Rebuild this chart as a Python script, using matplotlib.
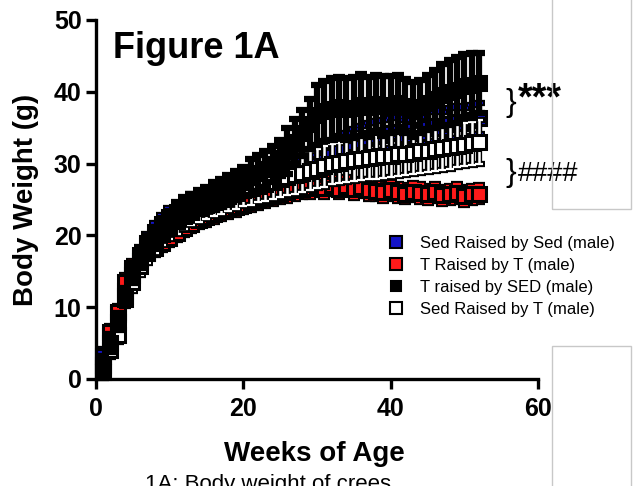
import numpy as np
import matplotlib
matplotlib.use("Agg")
import matplotlib.pyplot as plt
from matplotlib.lines import Line2D
from matplotlib.patches import Rectangle

plt.rcParams["font.family"] = ["Liberation Sans", "DejaVu Sans"]

# ------------------------------------------------------------------
# Data: mean body weight (g) and SD per week
# ------------------------------------------------------------------

weeks = np.arange(1, 53)

sed_by_sed = [3.2, 6.0, 9.0, 12.2, 15.0, 17.3, 19.0, 20.5, 21.6, 22.5,
              23.2, 23.8, 24.3, 24.8, 25.2, 25.6, 26.0, 26.4, 26.7, 27.0,
              27.3, 27.6, 27.9, 28.1, 28.3, 28.5, 28.8, 29.0, 29.4, 29.8,
              30.4, 31.0, 31.8, 32.3, 32.8, 33.2, 33.5, 33.8, 34.0, 34.2,
              34.4, 34.0, 34.7, 34.3, 35.0, 35.3, 35.0, 35.5, 35.8, 35.6,
              36.0, 36.3]
sed_by_sed_sd = [1.0, 1.0, 1.0, 1.0, 1.1, 1.1, 1.2, 1.2, 1.2, 1.3,
                 1.3, 1.3, 1.4, 1.4, 1.4, 1.5, 1.5, 1.5, 1.5, 1.6,
                 1.6, 1.6, 1.6, 1.7, 1.7, 1.7, 1.8, 1.8, 1.8, 1.9,
                 1.9, 2.0, 2.0, 2.0, 2.0, 2.0, 2.1, 2.1, 2.1, 2.1,
                 2.1, 2.1, 2.2, 2.2, 2.2, 2.2, 2.2, 2.2, 2.2, 2.2,
                 2.2, 2.2]

t_by_t = [1.0, 6.5, 9.3, 13.5, 15.5, 16.5, 17.5, 18.3, 19.0, 19.6,
          20.3, 21.0, 21.6, 22.1, 22.5, 23.0, 23.4, 23.7, 24.0, 24.3,
          24.6, 24.9, 25.2, 25.5, 25.8, 26.0, 26.3, 26.5, 26.6, 26.8,
          26.6, 27.0, 26.5, 26.9, 26.4, 26.7, 26.3, 26.2, 26.0, 26.3,
          26.0, 25.8, 26.1, 25.9, 25.7, 26.0, 25.6, 25.7, 25.9, 25.5,
          25.7, 25.8]
t_by_t_sd = [0.8, 0.9, 0.9, 1.0, 1.0, 1.0, 1.0, 1.0, 1.0, 1.0,
             1.0, 1.0, 1.0, 1.0, 1.0, 1.1, 1.1, 1.1, 1.1, 1.1,
             1.1, 1.1, 1.1, 1.1, 1.2, 1.2, 1.2, 1.2, 1.2, 1.2,
             1.2, 1.2, 1.2, 1.2, 1.2, 1.2, 1.2, 1.2, 1.2, 1.2,
             1.2, 1.2, 1.2, 1.2, 1.2, 1.2, 1.2, 1.2, 1.2, 1.2,
             1.2, 1.2]

t_by_sed = [2.0, 5.0, 8.0, 11.5, 14.5, 16.8, 18.5, 19.8, 21.0, 22.0,
            23.0, 23.7, 24.2, 24.7, 25.1, 25.5, 25.9, 26.4, 26.9, 27.5,
            28.1, 28.7, 29.3, 30.0, 30.8, 31.8, 33.0, 34.3, 35.5, 36.8,
            37.3, 37.6, 37.9, 37.6, 37.8, 38.2, 37.9, 38.3, 38.0, 38.2,
            38.4, 38.0, 37.5, 37.9, 38.5, 39.0, 39.6, 39.9, 40.3, 40.8,
            40.9, 41.2]
t_by_sed_sd = [1.2, 1.2, 1.2, 1.2, 1.2, 1.4, 1.4, 1.4, 1.4, 1.4,
               1.6, 1.6, 1.6, 1.6, 1.6, 2.0, 2.0, 2.0, 2.0, 2.0,
               2.5, 2.5, 2.5, 2.5, 2.5, 3.2, 3.2, 3.2, 3.5, 4.2,
               4.2, 4.3, 4.2, 4.3, 4.2, 4.3, 4.2, 4.0, 4.2, 4.0,
               4.0, 3.8, 3.8, 3.7, 3.8, 4.0, 4.3, 4.5, 4.6, 4.5,
               4.5, 4.2]

sed_by_t = [1.5, 4.0, 6.1, 11.2, 13.5, 15.8, 17.6, 19.0, 20.2, 21.2,
            22.0, 22.7, 23.3, 23.8, 24.3, 24.7, 25.1, 25.5, 25.9, 26.3,
            26.6, 26.9, 27.2, 27.5, 27.8, 28.1, 28.4, 28.7, 29.0, 29.3,
            29.6, 29.9, 30.1, 30.3, 30.5, 30.6, 30.8, 30.9, 31.0, 31.1,
            31.3, 31.4, 31.5, 31.7, 31.8, 32.0, 32.1, 32.3, 32.5, 32.6,
            32.8, 33.0]
sed_by_t_sd = [1.0, 1.0, 1.0, 1.1, 1.2, 1.3, 1.4, 1.5, 1.6, 1.7,
               1.8, 1.8, 1.9, 1.9, 2.0, 2.0, 2.1, 2.1, 2.2, 2.2,
               2.3, 2.3, 2.4, 2.4, 2.5, 2.5, 2.6, 2.6, 2.7, 2.7,
               2.8, 2.8, 2.8, 2.9, 2.9, 2.9, 3.0, 3.0, 3.0, 3.0,
               3.0, 3.0, 3.0, 3.0, 3.0, 3.0, 3.0, 3.0, 3.0, 3.0,
               3.0, 3.0]

labels = ["Sed Raised by Sed (male)", "T Raised by T (male)",
          "T raised by SED (male)", "Sed Raised by T (male)"]
colors = ["#1414c8", "#ff1a1a", "black", "white"]

# ------------------------------------------------------------------
# Figure
# ------------------------------------------------------------------

fig = plt.figure(figsize=(6.37, 4.86), dpi=100)
ax = fig.add_axes([0.150, 0.2202, 0.695, 0.7387])

# drawing order: black group ends up on top, as in the original
series = [
    (sed_by_sed, sed_by_sed_sd, colors[0]),
    (t_by_t, t_by_t_sd, colors[1]),
    (sed_by_t, sed_by_t_sd, colors[3]),
    (t_by_sed, t_by_sed_sd, colors[2]),
]

z = 3
for mean, sd, col in series:
    ax.errorbar(weeks, mean, yerr=sd, fmt="none", ecolor="black",
                elinewidth=4.5, capsize=4.5, capthick=4.5, zorder=z,
                clip_on=False)
    if col != "black":
        ax.errorbar(weeks, mean, yerr=sd, fmt="none", ecolor=col,
                    elinewidth=1.8, capsize=3, capthick=1.6, zorder=z + 0.1,
                    clip_on=False)
    ax.plot(weeks, mean, "s", color=col, markeredgecolor="black",
            markersize=9.5, markeredgewidth=2.2, ls="None", zorder=z + 0.2,
            clip_on=False)
    z += 1

ax.set_xlim(0, 60)
ax.set_ylim(0, 50)
ax.set_xticks([0, 20, 40, 60])
ax.set_yticks([0, 10, 20, 30, 40, 50])
for side in ("top", "right"):
    ax.spines[side].set_visible(False)
for side in ("left", "bottom"):
    ax.spines[side].set_linewidth(2.4)
    ax.spines[side].set_zorder(10)
ax.tick_params(direction="out", length=7, width=2.4, labelsize=18, pad=3)
ax.tick_params(axis="x", pad=6)
for lab in ax.get_xticklabels() + ax.get_yticklabels():
    lab.set_fontweight("bold")

ax.set_xlabel("Weeks of Age", fontsize=20, fontweight="bold")
ax.xaxis.set_label_coords(0.495, -0.172)
ax.set_ylabel("Body Weight (g)", fontsize=20, fontweight="bold")
ax.yaxis.set_label_coords(-0.128, 0.5)

fig.text(113 / 637, 1 - 58 / 486, "Figure 1A", fontsize=26,
         fontweight="bold", va="baseline")

# significance markers
fig.text(505 / 637, 1 - 111 / 486, "}", fontsize=23, va="baseline")
fig.text(518 / 637, 1 - 109 / 486, "***", fontsize=27, fontweight="bold",
         va="baseline")
fig.text(505 / 637, 1 - 181 / 486, "}", fontsize=23, va="baseline")
fig.text(518 / 637, 1 - 181 / 486, "####", fontsize=19.5, va="baseline")

# legend
handles = [Line2D([], [], marker="s", ls="None", color=colors[i],
                  markeredgecolor="black", markersize=8 if i != 2 else 6.5,
                  markeredgewidth=1.5) for i in range(4)]
fig.legend(handles, labels, loc="upper left",
           bbox_to_anchor=(388 / 637, 1 - 236 / 486), frameon=False,
           fontsize=12, handlelength=1.0, handletextpad=0.9,
           labelspacing=0.42, borderpad=0, borderaxespad=0)

# caption, cut off by the bottom edge as in the original screenshot
fig.text(145 / 637, 1 - 474 / 486, "1A: Body weight of crees", fontsize=16,
         va="top")

# faint boxes on the right edge of the screenshot
for y0, y1 in ((1 - 209 / 486, 1.02), (-0.02, 1 - 346 / 486)):
    fig.patches.append(Rectangle((552 / 637, y0), 79 / 637, y1 - y0,
                                 transform=fig.transFigure, fill=False,
                                 edgecolor="#c8c8c8", linewidth=1,
                                 zorder=20))

fig.savefig("out.png", dpi=100)
